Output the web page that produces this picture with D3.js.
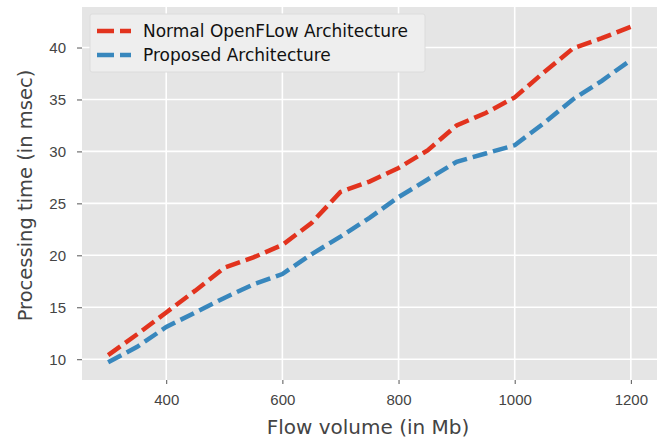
<!DOCTYPE html>
<html>
<head>
<meta charset="utf-8">
<script src="https://cdn.jsdelivr.net/npm/d3@7"></script>
<style>
  body { margin: 0; background: #fff; }
  svg { display: block; font-family: "DejaVu Sans", sans-serif; }
</style>
</head>
<body>
<div id="chart"></div>
<script>
// flow volumes (Mb) and processing times (msec)
const flowVolume = [300, 350, 400, 450, 500, 550, 600, 650, 700, 750, 800, 850, 900, 950, 1000, 1050, 1100, 1150, 1200];
const normalTimes = [10.4, 12.4, 14.5, 16.6, 18.8, 19.8, 21.0, 23.1, 26.1, 27.1, 28.4, 30.1, 32.5, 33.7, 35.2, 37.6, 39.9, 40.9, 42.0];
const proposedTimes = [9.7, 11.2, 13.1, 14.5, 15.9, 17.2, 18.2, 20.1, 21.8, 23.6, 25.6, 27.3, 29.0, 29.8, 30.6, 32.7, 35.0, 36.8, 38.8];
const seriesNames = ['Normal OpenFLow Architecture', 'Proposed Architecture'];
const xTicks = [400, 600, 800, 1000, 1200];
const yTicks = [10, 15, 20, 25, 30, 35, 40];

const colors = ['#E2331E', '#3887BD'];
const W = 663, H = 438;
const margin = {top: 7, right: 6, bottom: 58, left: 82};
const width = W - margin.left - margin.right,
      height = H - margin.top - margin.bottom;

const svg = d3.select('#chart').append('svg')
    .attr('width', W)
    .attr('height', H);

const g = svg.append('g')
    .attr('transform', `translate(${margin.left},${margin.top})`);

const x = d3.scaleLinear().domain([255, 1245]).range([0, width]);
const y = d3.scaleLinear().domain([8.0, 43.9]).range([height, 0]);

// panel background
g.append('rect')
    .attr('width', width)
    .attr('height', height)
    .attr('fill', '#E5E5E5');

// grid
g.selectAll('.vgrid').data(xTicks).enter().append('line')
    .attr('x1', d => x(d)).attr('x2', d => x(d))
    .attr('y1', 0).attr('y2', height)
    .attr('stroke', '#fff').attr('stroke-width', 1.6);
g.selectAll('.hgrid').data(yTicks).enter().append('line')
    .attr('y1', d => y(d)).attr('y2', d => y(d))
    .attr('x1', 0).attr('x2', width)
    .attr('stroke', '#fff').attr('stroke-width', 1.6);

// axes
const xAxis = g.append('g')
    .attr('transform', `translate(0,${height})`)
    .call(d3.axisBottom(x).tickValues(xTicks).tickSize(4).tickPadding(10).tickFormat(d3.format('d')));
const yAxis = g.append('g')
    .call(d3.axisLeft(y).tickValues(yTicks).tickSize(5).tickPadding(11));
[xAxis, yAxis].forEach(a => {
    a.select('.domain').remove();
    a.selectAll('.tick line').attr('stroke', '#555');
    a.selectAll('.tick text').attr('fill', '#444').style('font-size', '15px');
});

// lines
const series = [normalTimes, proposedTimes];
const line = d3.line()
    .x((d, i) => x(flowVolume[i]))
    .y(d => y(d));

series.forEach((s, k) => {
    g.append('path')
        .datum(s)
        .attr('fill', 'none')
        .attr('stroke', colors[k])
        .attr('stroke-width', 4.5)
        .attr('stroke-dasharray', '15,6')
        .attr('d', line);
});

// legend
const legend = g.append('g').attr('transform', 'translate(8,7)');
legend.append('rect')
    .attr('width', 335)
    .attr('height', 58)
    .attr('rx', 2)
    .attr('fill', '#EEEEEE')
    .attr('stroke', '#DCDCDC')
    .attr('stroke-width', 1);
seriesNames.forEach((name, k) => {
    const ly = 17 + k * 24;
    legend.append('line')
        .attr('x1', 7).attr('x2', 41)
        .attr('y1', ly).attr('y2', ly)
        .attr('stroke', colors[k])
        .attr('stroke-width', 4.5)
        .attr('stroke-dasharray', '17,6');
    legend.append('text')
        .attr('x', 53)
        .attr('y', ly)
        .attr('dy', '0.35em')
        .attr('fill', '#111')
        .style('font-size', '17px')
        .text(name);
});

// axis labels
svg.append('text')
    .attr('x', 368)
    .attr('y', 434)
    .attr('text-anchor', 'middle')
    .attr('fill', '#444')
    .style('font-size', '20px')
    .text('Flow volume (in Mb)');

svg.append('text')
    .attr('transform', `translate(32,${margin.top + height / 2 + 2}) rotate(-90)`)
    .attr('text-anchor', 'middle')
    .attr('fill', '#444')
    .style('font-size', '19.5px')
    .text('Processing time (in msec)');
</script>
</body>
</html>
